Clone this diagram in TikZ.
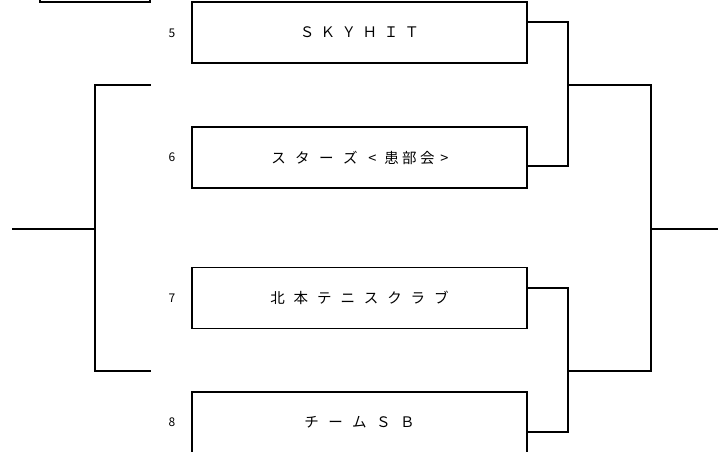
\documentclass[tikz,border=0pt]{standalone}
\usepackage{fontspec}
\newfontfamily\jp{Noto Sans CJK JP}
\newcommand\cb[2]{\makebox[#1pt][c]{#2}}
\begin{document}
\begin{tikzpicture}[x=1pt,y=-1pt,
  line width=1.25pt,
  team/.style={draw, rectangle, inner sep=0pt, minimum width=335pt, minimum height=61pt,
    font=\jp\fontsize{14.5}{17}\selectfont},
  seed/.style={font=\jp\fontsize{12}{14}\selectfont},
  wire/.style={line cap=rect}]
\useasboundingbox (0,0) rectangle (718,452);
\clip (0,0) rectangle (718,452);
% partial box at top left
\node[draw, rectangle, inner sep=0pt, minimum width=110pt, minimum height=64pt] (b4) at (95,-30) {};
% team boxes
\node[team] (b5) at (359.5,32.5) {\cb{21}{Ｓ}\cb{21}{Ｋ}\cb{21}{Ｙ}\cb{21}{Ｈ}\cb{21}{Ｉ}\cb{21}{Ｔ}};
\node[team] (b6) at (359.5,157.5) {\cb{24}{ス}\cb{24}{タ}\cb{24}{ー}\cb{24}{ズ}\cb{20}{<}\cb{18}{患}\cb{18}{部}\cb{18}{会}\cb{16}{>}};
\node[team] (b7) at (359.5,298) {\cb{23.4}{北}\cb{23.4}{本}\cb{23.4}{テ}\cb{23.4}{ニ}\cb{23.4}{ス}\cb{23.4}{ク}\cb{23.4}{ラ}\cb{23.4}{ブ}};
\node[team] (b8) at (359.5,422.5) {\cb{24}{チ}\cb{24}{ー}\cb{24}{ム}\cb{24}{Ｓ}\cb{24}{Ｂ}};
% seed numbers
\node[seed] (n5) at (172,33) {5};
\node[seed] (n6) at (172,157.5) {6};
\node[seed] (n7) at (172,298) {7};
\node[seed] (n8) at (172,422.5) {8};
% connector coordinates
\coordinate (r1) at (568,85);
\coordinate (r2) at (568,371);
\coordinate (f) at (651,229);
\coordinate (fout) at (718,229);
\coordinate (la) at (150,85);
\coordinate (lb) at (150,371);
\coordinate (lm) at (95,229);
\coordinate (lout) at (12,229);
% right side brackets
\draw[wire] ([yshift=10.5pt]b5.east) -| (r1) |- ([yshift=-8.5pt]b6.east);
\draw[wire] ([yshift=10pt]b7.east) -| (r2) |- ([yshift=-9.5pt]b8.east);
\draw[wire] (r1) -| (f) |- (r2);
\draw (f) -- (fout);
% left side bracket
\draw[wire] (la) -| (lm) |- (lb);
\draw (lm) -- (lout);
\end{tikzpicture}
\end{document}
